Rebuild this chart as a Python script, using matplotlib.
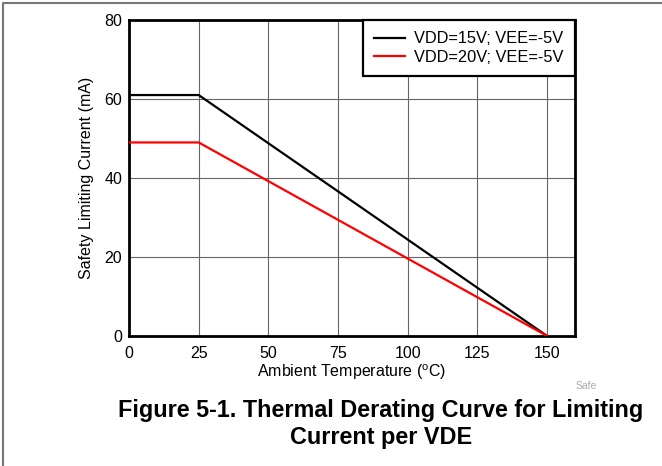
import matplotlib
matplotlib.use("Agg")
import matplotlib.pyplot as plt
from matplotlib.lines import Line2D

plt.rcParams['font.family'] = ['Liberation Sans', 'DejaVu Sans']
plt.rcParams['mathtext.fontset'] = 'custom'
plt.rcParams['mathtext.rm'] = 'Liberation Sans'

# data
temp = [0, 25, 150]
vdd15 = [61, 61, 0]
vdd20 = [49, 49, 0]
series_labels = ['VDD=15V; VEE=-5V', 'VDD=20V; VEE=-5V']
xticks = [0, 25, 50, 75, 100, 125, 150]
yticks = [0, 20, 40, 60, 80]

fig = plt.figure(figsize=(6.62, 4.66), dpi=100)
ax = fig.add_axes([129/662, 1 - 336/466, (575-129)/662, (336-20)/466])

ax.plot(temp, vdd15, color='black', lw=1.6, label=series_labels[0], zorder=3)
ax.plot(temp, vdd20, color='#ff0000', lw=1.6, label=series_labels[1], zorder=3)

ax.set_xlim(0, 160)
ax.set_ylim(0, 80)
ax.set_xticks(xticks)
ax.set_yticks(yticks)
ax.grid(True, color='#666666', lw=0.8)
ax.tick_params(length=0, labelsize=11.5)
ax.tick_params(axis='x', pad=7)
ax.tick_params(axis='y', pad=5)
for s in ax.spines.values():
    s.set_linewidth(2)
    s.set_color('black')

ax.set_xlabel('Ambient Temperature ($^{\\mathregular{o}}$C)', fontsize=11.5, labelpad=1)
ax.set_ylabel('Safety Limiting Current (mA)', fontsize=11.5, labelpad=7)

leg = ax.legend(loc='upper right', borderaxespad=0, fancybox=False,
                framealpha=1, edgecolor='black', fontsize=11.8,
                handlelength=1.9, handletextpad=0.55, borderpad=0.7,
                labelspacing=0.2)
leg.get_frame().set_linewidth(1.6)

fig.text(586/662, 1 - 386/466, 'Safe', fontsize=7.5, color='#aaaaaa',
         ha='center', va='center')
fig.text(381/662, 1 - 424/466,
         'Figure 5-1. Thermal Derating Curve for Limiting\nCurrent per VDE',
         fontsize=16.8, fontweight='bold', ha='center', va='center',
         linespacing=1.25)

# gray page frame (top and left edges)
fig.add_artist(Line2D([3/662, 3/662, 1], [0, 1 - 3/466, 1 - 3/466],
                      transform=fig.transFigure, color='#777777', lw=1.5))

fig.savefig('out.png', dpi=100)
